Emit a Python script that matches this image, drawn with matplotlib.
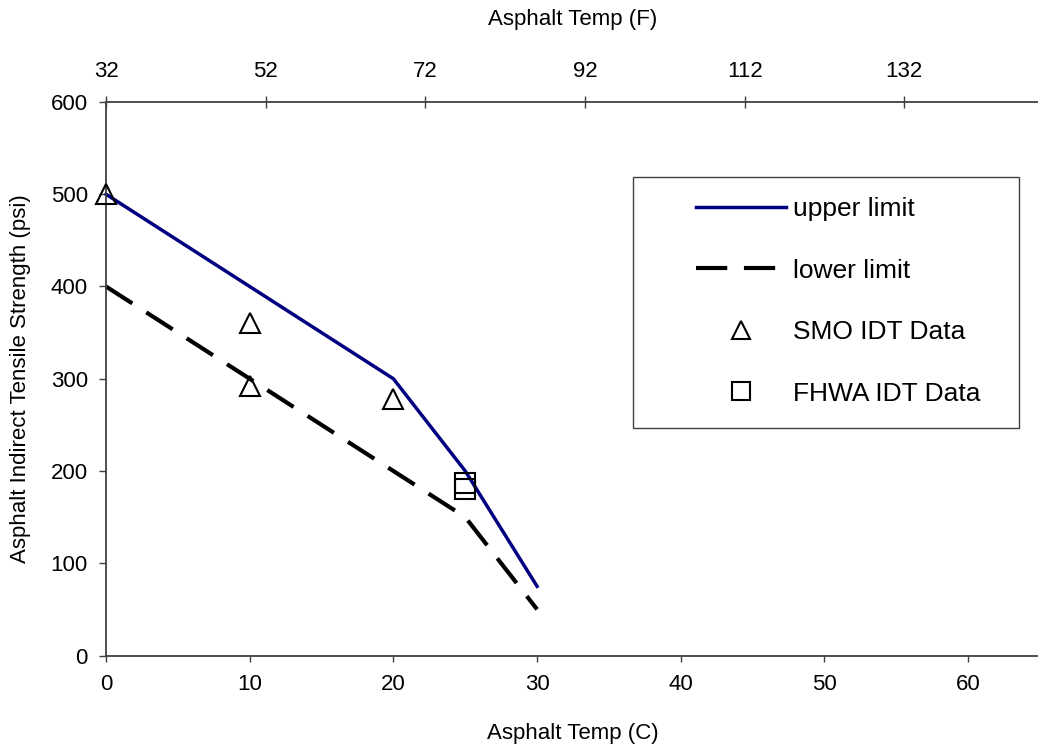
import matplotlib
matplotlib.use("Agg")
import matplotlib.pyplot as plt
from matplotlib.patches import Rectangle

plt.rcParams['font.family'] = ['Liberation Sans', 'DejaVu Sans']

# data
temp_c = [0, 10, 20, 25, 30]
upper_limit = [500, 400, 300, 200, 75]
lower_limit = [400, 300, 200, 150, 50]

smo_temp = [0, 10, 10, 20]
smo_strength = [500, 360, 292, 278]

fhwa_temp = [25, 25]
fhwa_strength = [187, 180]

f_ticks = [32, 52, 72, 92, 112, 132]
c_ticks = [0, 10, 20, 30, 40, 50, 60]
y_ticks = [0, 100, 200, 300, 400, 500, 600]

W, H = 1038, 750
fig = plt.figure(figsize=(W / 100, H / 100), dpi=100)
ax = fig.add_axes([106 / W, 1 - 655.5 / H, (1040 - 106) / W, (655.5 - 102) / H])

spine_col = '#404040'

ax.plot(temp_c, upper_limit, color='#000080', lw=2.5, label='upper limit', clip_on=False)
ax.plot(temp_c, lower_limit, color='black', lw=3, dashes=(7.5, 4), label='lower limit',
        clip_on=False)
ax.plot(smo_temp, smo_strength, ls='none', marker='^', ms=15, mfc='none',
        mec='black', mew=1.5, label='SMO IDT Data', clip_on=False, zorder=5)
ax.plot(fhwa_temp, fhwa_strength, ls='none', marker='s', ms=15, mfc='none',
        mec='black', mew=1.5, label='FHWA IDT Data', clip_on=False, zorder=5)

ax.set_xlim(0, 65)
ax.set_ylim(0, 600)
ax.set_xticks(c_ticks)
ax.set_yticks(y_ticks)

for side in ['right', 'top']:
    ax.spines[side].set_visible(False)
for side in ['left', 'bottom']:
    ax.spines[side].set_color(spine_col)
    ax.spines[side].set_linewidth(1.3)

ax.tick_params(axis='x', direction='out', length=4.5, width=1, color=spine_col,
               labelsize=16, pad=9)
ax.tick_params(axis='y', direction='out', length=5, width=1, color=spine_col,
               labelsize=16, pad=8)


def c2f(c):
    return c * 9 / 5 + 32


def f2c(f):
    return (f - 32) * 5 / 9


top = ax.secondary_xaxis('top', functions=(c2f, f2c))
top.set_xticks(f_ticks)
top.spines['top'].set_color(spine_col)
top.spines['top'].set_linewidth(1.3)
top.tick_params(direction='inout', length=9, width=1, color=spine_col,
                labelsize=16, pad=10)

fig.text(573 / W, 1 - 20 / H, 'Asphalt Temp (F)', ha='center', va='center', fontsize=16)
fig.text(573 / W, 1 - 734 / H, 'Asphalt Temp (C)', ha='center', va='center', fontsize=16)
fig.text(21 / W, 1 - 379 / H, 'Asphalt Indirect Tensile Strength (psi)', ha='center',
         va='center', rotation=90, fontsize=16)

# legend box and entries
fig.patches.append(Rectangle((633 / W, 1 - 428 / H), (1019 - 633) / W, (428 - 177) / H,
                             transform=fig.transFigure, fill=False, ec=spine_col, lw=1))
ax.legend(loc='upper left', bbox_to_anchor=(683 / W, 1 - 184 / H),
          bbox_transform=fig.transFigure, frameon=False, fontsize=19,
          borderpad=0, handlelength=3.4, handletextpad=0.25, labelspacing=1.42,
          markerscale=0.87, numpoints=1)

fig.savefig('out.png', dpi=100)
